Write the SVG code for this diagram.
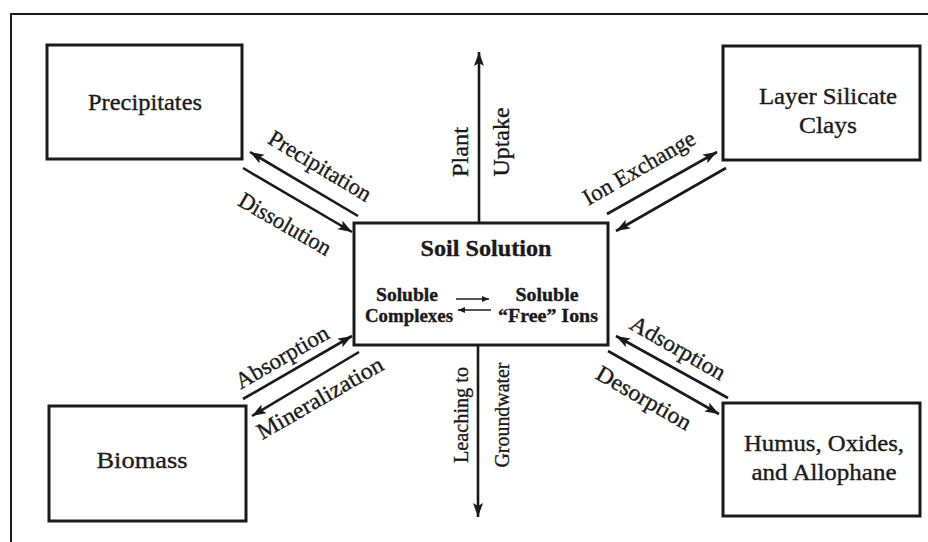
<svg xmlns="http://www.w3.org/2000/svg" width="928" height="542" viewBox="0 0 928 542">
<defs>
<style>
.box{fill:#fff;stroke:#1a1a1a;stroke-width:3}
.frame{fill:none;stroke:#1a1a1a;stroke-width:2}
.t{font-family:"Liberation Serif","Times New Roman",serif;font-size:23px;fill:#1a1a1a;stroke:#1a1a1a;stroke-width:0.35}
.b{font-weight:bold}
.arr{stroke:#1a1a1a;stroke-width:2.6;fill:none;marker-end:url(#ah)}
.sarr{stroke:#1a1a1a;stroke-width:1.6;fill:none;marker-end:url(#sh)}
</style>
<marker id="ah" markerUnits="userSpaceOnUse" markerWidth="16" markerHeight="12" refX="14" refY="5" orient="auto">
<path d="M0,0 L14,5 L0,10 L3,5 z" fill="#1a1a1a"/>
</marker>
<marker id="sh" markerUnits="userSpaceOnUse" markerWidth="8" markerHeight="6" refX="7" refY="3" orient="auto">
<path d="M0,0 L7,3 L0,6 z" fill="#1a1a1a"/>
</marker>
</defs>
<rect width="928" height="542" fill="#fff"/>
<path class="frame" d="M11,542 L11,14 L928,14"/>

<g id="connectors">
<line class="arr" x1="479" y1="223" x2="479" y2="52"/>
<line class="arr" x1="478" y1="345" x2="478" y2="517"/>
<line class="arr" x1="358" y1="216" x2="250" y2="152"/>
<line class="arr" x1="243" y1="168" x2="352" y2="232"/>
<line class="arr" x1="607" y1="214" x2="717" y2="152"/>
<line class="arr" x1="726" y1="168" x2="616" y2="231"/>
<line class="arr" x1="243" y1="399" x2="352" y2="336"/>
<line class="arr" x1="359" y1="352" x2="252" y2="416"/>
<line class="arr" x1="728" y1="398" x2="616" y2="336"/>
<line class="arr" x1="608" y1="351" x2="719" y2="414"/>
<text class="t" transform="translate(460,152) rotate(-90)" text-anchor="middle" dominant-baseline="central" textLength="50" lengthAdjust="spacingAndGlyphs">Plant</text>
<text class="t" transform="translate(501,142) rotate(-90)" text-anchor="middle" dominant-baseline="central" textLength="69" lengthAdjust="spacingAndGlyphs">Uptake</text>
<text class="t" transform="translate(461,415) rotate(-90)" text-anchor="middle" dominant-baseline="central" style="font-size:21px" textLength="96" lengthAdjust="spacingAndGlyphs">Leaching to</text>
<text class="t" transform="translate(502,415) rotate(-90)" text-anchor="middle" dominant-baseline="central" style="font-size:21px" textLength="105" lengthAdjust="spacingAndGlyphs">Groundwater</text>
<text class="t" transform="translate(320,166) rotate(31)" text-anchor="middle" dominant-baseline="central" textLength="116" lengthAdjust="spacingAndGlyphs">Precipitation</text>
<text class="t" transform="translate(285,224) rotate(30)" text-anchor="middle" dominant-baseline="central" textLength="103" lengthAdjust="spacingAndGlyphs">Dissolution</text>
<text class="t" transform="translate(639,168) rotate(-30)" text-anchor="middle" dominant-baseline="central" textLength="126" lengthAdjust="spacingAndGlyphs">Ion Exchange</text>
<text class="t" transform="translate(282,357) rotate(-30)" text-anchor="middle" dominant-baseline="central" textLength="104" lengthAdjust="spacingAndGlyphs">Absorption</text>
<text class="t" transform="translate(320,398) rotate(-30)" text-anchor="middle" dominant-baseline="central" textLength="142" lengthAdjust="spacingAndGlyphs">Mineralization</text>
<text class="t" transform="translate(678,348) rotate(30)" text-anchor="middle" dominant-baseline="central" textLength="106" lengthAdjust="spacingAndGlyphs">Adsorption</text>
<text class="t" transform="translate(644,398) rotate(30)" text-anchor="middle" dominant-baseline="central" textLength="106" lengthAdjust="spacingAndGlyphs">Desorption</text>
</g>

<g id="precipitates">
<rect class="box" x="47" y="45" width="195" height="114"/>
<text class="t" x="145" y="110" text-anchor="middle" textLength="114" lengthAdjust="spacingAndGlyphs">Precipitates</text>
</g>

<g id="layer-silicate-clays">
<rect class="box" x="723" y="46" width="197" height="114"/>
<text class="t" x="828" y="104" text-anchor="middle" textLength="138" lengthAdjust="spacingAndGlyphs">Layer Silicate</text>
<text class="t" x="828" y="133" text-anchor="middle" textLength="58" lengthAdjust="spacingAndGlyphs">Clays</text>
</g>

<g id="soil-solution">
<rect class="box" x="354" y="223" width="254" height="122"/>
<text class="t b" x="486" y="256" text-anchor="middle" style="font-size:24px" textLength="131" lengthAdjust="spacingAndGlyphs">Soil Solution</text>
<text class="t b" x="407" y="301" text-anchor="middle" style="font-size:18px" textLength="62" lengthAdjust="spacingAndGlyphs">Soluble</text>
<text class="t b" x="409" y="322" text-anchor="middle" style="font-size:18px" textLength="88" lengthAdjust="spacingAndGlyphs">Complexes</text>
<text class="t b" x="547" y="301" text-anchor="middle" style="font-size:18px" textLength="63" lengthAdjust="spacingAndGlyphs">Soluble</text>
<text class="t b" x="548" y="322" text-anchor="middle" style="font-size:18px" textLength="100" lengthAdjust="spacingAndGlyphs">“Free” Ions</text>
<line class="sarr" x1="456" y1="299" x2="489" y2="299"/>
<line class="sarr" x1="491" y1="310" x2="458" y2="310"/>
</g>

<g id="biomass">
<rect class="box" x="49" y="406" width="197" height="115"/>
<text class="t" x="142" y="468" text-anchor="middle" textLength="91" lengthAdjust="spacingAndGlyphs">Biomass</text>
</g>

<g id="humus-oxides-allophane">
<rect class="box" x="723" y="403" width="197" height="113"/>
<text class="t" x="824" y="451" text-anchor="middle" textLength="160" lengthAdjust="spacingAndGlyphs">Humus, Oxides,</text>
<text class="t" x="824" y="480" text-anchor="middle" textLength="145" lengthAdjust="spacingAndGlyphs">and Allophane</text>
</g>
</svg>
